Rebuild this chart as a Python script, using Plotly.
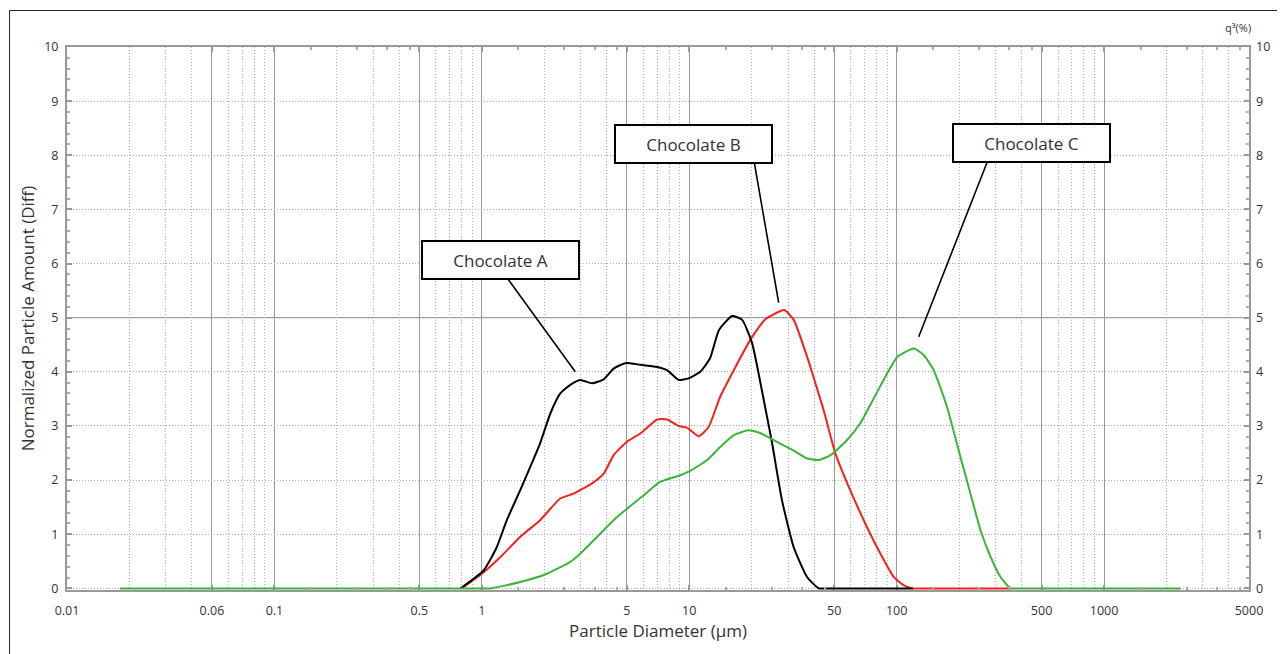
import math
import plotly.graph_objects as go

# ---------------- data ----------------
diam_a = [0.79, 1.02, 1.18, 1.32, 1.53, 1.71, 1.91, 2.14, 2.39, 2.67, 2.98, 3.40, 3.87, 4.32,
          4.92, 5.81, 7.0, 7.82, 8.89, 9.93, 11.3, 12.6, 13.9, 16.1, 18.0, 20.1, 22.4, 25.1,
          28.0, 31.9, 37.0, 42.1, 45.0, 120]
amount_a = [0, 0.33, 0.76, 1.26, 1.81, 2.24, 2.68, 3.23, 3.60, 3.76, 3.85, 3.79, 3.86, 4.06,
            4.16, 4.13, 4.09, 4.03, 3.85, 3.88, 4.00, 4.25, 4.77, 5.03, 4.96, 4.53, 3.66, 2.68,
            1.63, 0.76, 0.21, 0, 0, 0]

diam_b = [0.80, 1.0, 1.23, 1.53, 1.91, 2.39, 2.77, 3.40, 3.87, 4.32, 5.01, 5.81, 7.0, 7.82,
          8.89, 9.75, 11.1, 12.4, 14.1, 16.4, 19.7, 23.3, 28.7, 31.9, 37.0, 40.6, 44.5, 50.7,
          59.8, 72.0, 83.6, 96.9, 108, 119, 125, 354]
amount_b = [0, 0.27, 0.58, 0.95, 1.26, 1.66, 1.75, 1.94, 2.12, 2.46, 2.71, 2.86, 3.12, 3.12,
            3.00, 2.97, 2.81, 2.98, 3.54, 4.03, 4.59, 4.97, 5.14, 4.96, 4.28, 3.79, 3.29, 2.49,
            1.81, 1.13, 0.64, 0.21, 0.06, 0, 0, 0]

diam_c = [0.018, 1.0, 1.10, 1.32, 1.65, 2.06, 2.67, 2.98, 3.59, 4.32, 5.01, 6.03, 7.26, 9.06,
          10.1, 12.2, 14.1, 16.4, 19.3, 22.0, 25.5, 30.7, 37.0, 42.1, 48.0, 57.7, 66.8, 77.6,
          90.0, 101, 121, 135, 151, 175, 203, 227, 254, 284, 317, 354, 380, 2340]
amount_c = [0, 0, 0, 0.06, 0.15, 0.27, 0.49, 0.64, 0.95, 1.26, 1.47, 1.72, 1.97, 2.09,
            2.17, 2.37, 2.61, 2.83, 2.92, 2.87, 2.74, 2.58, 2.40, 2.37, 2.46, 2.74, 3.05, 3.51,
            3.97, 4.28, 4.43, 4.31, 4.03, 3.35, 2.43, 1.75, 1.07, 0.58, 0.21, 0, 0, 0]

series_names = ["Chocolate A", "Chocolate B", "Chocolate C"]

x_tick_vals = [0.01, 0.05, 0.1, 0.5, 1, 5, 10, 50, 100, 500, 1000, 5000]
x_tick_text = ["0.01", "0.06", "0.1", "0.5", "1", "5", "10", "50", "100", "500", "1000", "5000"]
y_tick_vals = list(range(0, 11))

# ---------------- styling ----------------
GRID = "#999999"
DOT = "#adadad"
TXT = "#333333"
FONT = "Open Sans, Roboto, sans-serif"
DOTDASH = "1px,2px"

decades = [0.01, 0.1, 1, 10, 100, 1000]
minor_grid = []
half_ticks = []
for d in decades:
    for m in [2, 3, 4, 6, 7, 8, 9]:
        v = round(m * d, 6)
        if v < 5000 and v not in x_tick_vals:
            minor_grid.append(v)
    if d >= 0.1:
        for m in [1.5, 2.5, 3.5, 4.5]:
            half_ticks.append(round(m * d, 6))

xr = [-2, math.log10(5000)]
yr = [-0.03, 10]   # tiny pad so the zero-level lines sit on top of the axis line

fig = go.Figure()

line_kw = dict(shape="spline", smoothing=0.5, width=2)
fig.add_trace(go.Scatter(x=diam_b, y=amount_b, mode="lines", name=series_names[1],
                         line=dict(color="#f2221c", **line_kw)))
fig.add_trace(go.Scatter(x=diam_a, y=amount_a, mode="lines", name=series_names[0],
                         line=dict(color="#000000", **line_kw)))
fig.add_trace(go.Scatter(x=diam_c, y=amount_c, mode="lines", name=series_names[2],
                         line=dict(color="#3cb43c", **line_kw)))
# helper (empty) traces so the overlay axes exist
fig.add_trace(go.Scatter(x=[], y=[], xaxis="x2", yaxis="y", showlegend=False, hoverinfo="skip"))
fig.add_trace(go.Scatter(x=[], y=[], xaxis="x", yaxis="y2", showlegend=False, hoverinfo="skip"))

tickfont = dict(family=FONT, size=12.5, color=TXT)
titlefont = dict(family=FONT, size=17, color=TXT)

# the page body adds an 8px offset, so the figure is 8px smaller and margins shifted
fig.update_layout(
    width=1277, height=646,
    margin=dict(l=59, r=36, t=39, b=64),
    paper_bgcolor="white", plot_bgcolor="white",
    showlegend=False,
    font=dict(family=FONT, color=TXT),
    xaxis=dict(
        type="log", range=xr, layer="below traces",
        tickmode="array", tickvals=x_tick_vals, ticktext=x_tick_text,
        showgrid=True, gridcolor=GRID, gridwidth=1.3,
        showline=True, linecolor=GRID, linewidth=2, mirror="ticks",
        ticks="inside", ticklen=5, tickcolor=GRID, tickwidth=1.5,
        tickfont=tickfont, ticklabelstandoff=8,
        zeroline=False,
        minor=dict(tickmode="array", tickvals=minor_grid, showgrid=True,
                   griddash=DOTDASH, gridcolor=DOT, gridwidth=1, ticks=""),
        title=dict(text="Particle Diameter (µm)", font=titlefont, standoff=5),
    ),
    xaxis2=dict(
        type="log", range=xr, overlaying="x", anchor="y", side="bottom",
        tickmode="array", tickvals=half_ticks, showticklabels=False,
        ticks="inside", ticklen=3, tickcolor=DOT, tickwidth=1.5,
        showgrid=False, showline=False, zeroline=False, mirror="ticks",
    ),
    yaxis=dict(
        range=yr, tickmode="array", tickvals=y_tick_vals, layer="below traces",
        showgrid=True, gridcolor=DOT, griddash=DOTDASH, gridwidth=1,
        showline=True, linecolor=GRID, linewidth=2, mirror=True,
        ticks="inside", ticklen=5, tickcolor=GRID, tickwidth=1.5,
        tickfont=tickfont, ticklabelstandoff=4,
        zeroline=False,
        minor=dict(dtick=0.2, ticks="inside", ticklen=3, tickcolor=DOT, showgrid=False),
        title=dict(text="Normalized Particle Amount (Diff)", font=titlefont, standoff=5),
    ),
    yaxis2=dict(
        range=yr, overlaying="y", side="right", anchor="x",
        tickmode="array", tickvals=y_tick_vals,
        showgrid=False, showline=False, zeroline=False,
        ticks="inside", ticklen=5, tickcolor=GRID, tickwidth=1.5,
        tickfont=tickfont, ticklabelstandoff=6,
        minor=dict(dtick=0.2, ticks="inside", ticklen=3, tickcolor=DOT, showgrid=False),
    ),
)

# solid horizontal grid line at 5
fig.add_shape(type="line", xref="paper", yref="y", x0=0, x1=1, y0=5, y1=5,
              line=dict(color=GRID, width=1.3), layer="below")

# outer frame of the figure
fig.add_shape(type="rect", xref="paper", yref="paper", x0=-0.0486, x1=1.2, y0=-0.3, y1=1.0672,
              line=dict(color="#222222", width=1), fillcolor="rgba(0,0,0,0)", layer="above")

# leader lines (head on curve, tail inside the label box)
leaders = [
    (0.4506, 4.002, 0.1008, 5.846),
    (1.4313, 5.279, 1.3088, 7.974),
    (2.1066, 4.649, 2.4482, 7.987),
]
for hx, hy, tx, ty in leaders:
    fig.add_annotation(x=hx, y=hy, ax=tx, ay=ty, xref="x", yref="y", axref="x", ayref="y",
                       text="", showarrow=True, arrowhead=0, arrowwidth=1.6, arrowcolor="#000000",
                       standoff=0, startstandoff=0)

# label boxes
boxes = [(0.0912, 6.068), (1.0198, 8.211), (2.6479, 8.218)]
for (bx, by), name in zip(boxes, series_names):
    fig.add_annotation(x=bx, y=by, xref="x", yref="y", text=name, showarrow=False,
                       xanchor="center", yanchor="middle",
                       bgcolor="white", bordercolor="#000000", borderwidth=2, borderpad=0,
                       width=155, height=36, align="center", valign="middle",
                       font=dict(family=FONT, size=17, color=TXT))

# unit label on the right axis
fig.add_annotation(x=0.9907, y=1.0368, xref="paper", yref="paper", text="q³(%)",
                   xanchor="center", yanchor="middle",
                   showarrow=False, font=dict(family=FONT, size=11, color=TXT))

fig.write_html("out.html")
